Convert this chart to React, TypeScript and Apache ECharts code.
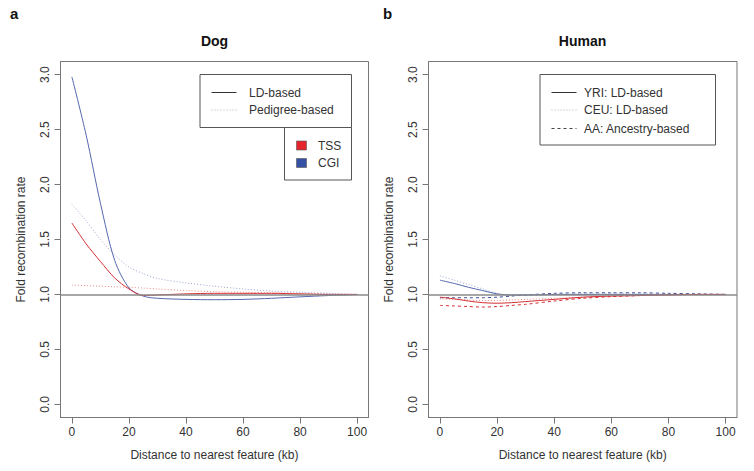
import React, { useEffect, useRef } from "react";
import * as echarts from "echarts";

const distances = [0, 5, 10, 15, 20, 25, 30, 40, 50, 60, 70, 80, 90, 100];

// Dog panel
const dogTssLd = [1.65, 1.46, 1.3, 1.15, 1.05, 0.99, 0.995, 1.005, 1.01, 1.01, 1.01, 1.005, 1.0, 1.0];
const dogCgiLd = [2.98, 2.45, 1.83, 1.31, 1.06, 0.985, 0.965, 0.955, 0.952, 0.955, 0.965, 0.978, 0.99, 1.0];
const dogTssPed = [1.085, 1.08, 1.075, 1.07, 1.065, 1.058, 1.05, 1.035, 1.025, 1.02, 1.015, 1.01, 1.005, 1.0];
const dogCgiPed = [1.82, 1.67, 1.5, 1.36, 1.25, 1.19, 1.145, 1.105, 1.075, 1.05, 1.03, 1.02, 1.01, 1.0];

// Human panel
const humTssYri = [0.975, 0.96, 0.94, 0.925, 0.92, 0.925, 0.935, 0.955, 0.975, 0.985, 0.99, 0.995, 1.0, 1.0];
const humCgiYri = [1.13, 1.1, 1.065, 1.035, 1.005, 0.995, 0.995, 1.0, 1.0, 1.0, 1.0, 1.0, 1.0, 1.0];
const humTssCeu = [0.96, 0.955, 0.95, 0.945, 0.945, 0.95, 0.955, 0.965, 0.975, 0.985, 0.99, 0.995, 1.0, 1.0];
const humCgiCeu = [1.17, 1.13, 1.09, 1.05, 1.01, 0.99, 0.99, 1.0, 1.005, 1.005, 1.005, 1.0, 1.0, 1.0];
const humTssAa = [0.9, 0.895, 0.89, 0.885, 0.89, 0.9, 0.91, 0.94, 0.965, 0.98, 0.99, 1.0, 1.0, 1.0];
const humCgiAa = [0.97, 0.97, 0.97, 0.97, 0.975, 0.985, 0.995, 1.01, 1.015, 1.015, 1.015, 1.01, 1.005, 1.0];

const xTicks = [0, 20, 40, 60, 80, 100];
const yTicks = [0, 0.5, 1, 1.5, 2, 2.5, 3];

const panelTitles = ["Dog", "Human"];
const panelLetters = ["a", "b"];
const dogLineLegend = ["LD-based", "Pedigree-based"];
const dogColorLegend = ["TSS", "CGI"];
const humanLegend = ["YRI: LD-based", "CEU: LD-based", "AA: Ancestry-based"];

const FONT = "'Liberation Sans', Arial, Helvetica, sans-serif";
const RED = "#d62f33";
const RED_LIGHT = "#ec8a8c";
const BLUE = "#5568ae";
const BLUE_LIGHT = "#9aa6d4";
const BLUE_DARK = "#3f4f98";
const TEXT = "#333";
const AXIS = "#777";

const pairs = (ys: number[]) => distances.map((d, i) => [d, ys[i]]);

export default function App() {
  const ref = useRef<HTMLDivElement>(null);

  useEffect(() => {
    if (!ref.current) return;
    const chart = echarts.init(ref.current, undefined, { renderer: "svg" });

    const grids = [
      { left: 60.5, top: 61.5, width: 308, height: 356 },
      { left: 428.5, top: 61.5, width: 308.5, height: 356 },
    ];

    const xAxis = grids.map((_, i) => ({
      type: "value",
      gridIndex: i,
      min: -4,
      max: 104,
      name: "Distance to nearest feature (kb)",
      nameLocation: "middle",
      nameGap: 31,
      nameTextStyle: { fontFamily: FONT, fontSize: 12, color: TEXT },
      splitLine: { show: false },
      axisLine: { show: true, onZero: false, lineStyle: { color: AXIS, width: 1 } },
      axisTick: { show: true, customValues: xTicks, length: 6, lineStyle: { color: AXIS } },
      axisLabel: {
        customValues: xTicks,
        margin: 8,
        fontFamily: FONT,
        fontSize: 12,
        color: TEXT,
      },
    }));

    const yAxis = grids.map((_, i) => ({
      type: "value",
      gridIndex: i,
      min: -0.12,
      max: 3.12,
      name: "Fold recombination rate",
      nameLocation: "middle",
      nameGap: 34,
      nameRotate: 90,
      nameTextStyle: { fontFamily: FONT, fontSize: 12, color: TEXT },
      splitLine: { show: false },
      axisLine: { show: true, onZero: false, lineStyle: { color: AXIS, width: 1 } },
      axisTick: { show: true, customValues: yTicks, length: 6, lineStyle: { color: AXIS } },
      axisLabel: {
        customValues: yTicks,
        rotate: 90,
        margin: 10,
        fontFamily: FONT,
        fontSize: 12,
        color: TEXT,
        formatter: (v: number) => v.toFixed(1),
      },
    }));

    const refLine = {
      silent: true,
      symbol: "none",
      label: { show: false },
      lineStyle: { color: "#8a8a8a", width: 1.5, type: "solid" },
      data: [{ yAxis: 1 }],
    };

    const mk = (
      name: string,
      ys: number[],
      gi: number,
      color: string,
      type: any,
      z = 2,
      withRef = false
    ) => ({
      type: "line",
      name,
      xAxisIndex: gi,
      yAxisIndex: gi,
      data: pairs(ys),
      showSymbol: false,
      symbol: "none",
      smooth: 0.3,
      z,
      lineStyle: { color, width: 1, type },
      ...(withRef ? { markLine: refLine } : {}),
    });

    const series = [
      mk("Dog TSS pedigree", dogTssPed, 0, RED_LIGHT, [1, 2], 2, true),
      mk("Dog CGI pedigree", dogCgiPed, 0, BLUE_LIGHT, [1, 2]),
      mk("Dog CGI LD", dogCgiLd, 0, BLUE, "solid", 3),
      mk("Dog TSS LD", dogTssLd, 0, RED, "solid", 3),
      mk("Human CGI CEU", humCgiCeu, 1, BLUE_LIGHT, [1, 2], 2, true),
      mk("Human TSS CEU", humTssCeu, 1, RED_LIGHT, [1, 2]),
      mk("Human CGI AA", humCgiAa, 1, BLUE_DARK, [3, 3]),
      mk("Human TSS AA", humTssAa, 1, RED, [3, 3]),
      mk("Human CGI YRI", humCgiYri, 1, BLUE, "solid", 3),
      mk("Human TSS YRI", humTssYri, 1, RED, "solid", 3),
    ];

    const txt = (x: number, y: number, text: string, extra: any = {}) => ({
      type: "text",
      x,
      y,
      silent: true,
      style: {
        text,
        fontFamily: FONT,
        fontSize: 12,
        fill: TEXT,
        textVerticalAlign: "middle",
        verticalAlign: "middle",
        ...extra,
      },
    });

    const seg = (x1: number, x2: number, y: number, stroke: string, lineDash: any) => ({
      type: "line",
      silent: true,
      shape: { x1, y1: y, x2, y2: y },
      style: { stroke, lineWidth: 1, lineDash },
    });

    const box = (x: number, y: number, w: number, h: number) => ({
      type: "rect",
      silent: true,
      shape: { x, y, width: w, height: h },
      style: { fill: "#fff", stroke: "#555", lineWidth: 1 },
    });

    const graphic: any[] = [
      // panel letters and titles
      txt(10, 13, panelLetters[0], { fontSize: 15, fontWeight: "bold", fill: "#111" }),
      txt(383, 13, panelLetters[1], { fontSize: 15, fontWeight: "bold", fill: "#111" }),
      txt(214.5, 41, panelTitles[0], { fontSize: 14, fontWeight: "bold", fill: "#111", align: "center", textAlign: "center" }),
      txt(582.5, 41, panelTitles[1], { fontSize: 14, fontWeight: "bold", fill: "#111", align: "center", textAlign: "center" }),
      // dog legends
      box(200, 74.5, 151.5, 53),
      box(284.5, 127.5, 67, 52.5),
      seg(211.5, 236.5, 92.5, "#333", null),
      seg(211.5, 236.5, 110, "#b0b0b0", [1, 2]),
      txt(249, 92.5, dogLineLegend[0]),
      txt(249, 110, dogLineLegend[1]),
      {
        type: "rect",
        silent: true,
        shape: { x: 296.5, y: 141, width: 10, height: 9 },
        style: { fill: "#e5242b", stroke: "#555", lineWidth: 0.6 },
      },
      {
        type: "rect",
        silent: true,
        shape: { x: 296.5, y: 158.5, width: 10, height: 9 },
        style: { fill: "#3451a3", stroke: "#555", lineWidth: 0.6 },
      },
      txt(318, 145.5, dogColorLegend[0]),
      txt(318, 163, dogColorLegend[1]),
      // human legend
      box(540, 74.5, 175.5, 70.5),
      seg(551.5, 576.5, 92.5, "#333", null),
      seg(551.5, 576.5, 110, "#b0b0b0", [1, 2]),
      seg(551.5, 576.5, 128.5, "#444", [3, 3]),
      txt(584, 92.5, humanLegend[0]),
      txt(584, 110, humanLegend[1]),
      txt(584, 128.5, humanLegend[2]),
    ];

    chart.setOption({
      animation: false,
      backgroundColor: "#fff",
      textStyle: { fontFamily: FONT },
      grid: grids.map((g) => ({
        ...g,
        show: true,
        borderColor: AXIS,
        borderWidth: 1,
        backgroundColor: "transparent",
        containLabel: false,
      })),
      xAxis,
      yAxis,
      series,
      graphic,
    });

    return () => chart.dispose();
  }, []);

  return (
    <div
      ref={ref}
      style={{ position: "absolute", left: 0, top: 0, width: 754, height: 471 }}
    />
  );
}
